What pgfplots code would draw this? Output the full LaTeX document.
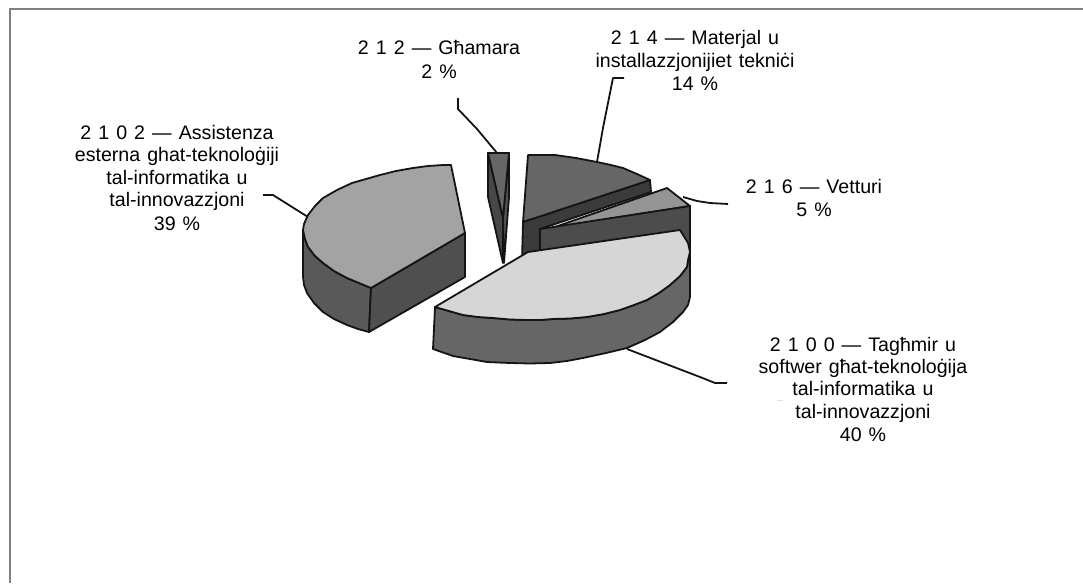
\documentclass[border=0pt]{standalone}
\usepackage{fontspec}
\setmainfont{Liberation Sans}
\usepackage{pgfplots}
\pgfplotsset{compat=1.18}
\begin{document}
\begin{tikzpicture}
\begin{axis}[
  scale only axis, width=1083bp, height=583bp,
  xmin=0, xmax=1083, ymin=0, ymax=583, y dir=reverse,
  hide axis, clip=true,
  every axis plot/.append style={line width=1.8pt, line join=round, draw=black!92, mark=none},
]
\path (axis cs:0,0) rectangle (axis cs:1083,583);
% frame
\addplot[draw=black!50, line width=2bp, line join=miter] coordinates {(9.5,583)(9.5,9.5)(1083,9.5)};
% speck
\addplot[draw=black!12, line width=1pt] coordinates {(777,400.5)(783,400.5)};
% leader lines
\addplot[fill=none] coordinates {(458,98)(458,109)(477,129)(497,153)};
\addplot[fill=none] coordinates {(624,78)(613,78)(603,128)(597,162)};
\addplot[fill=none] coordinates {(683,197)(697,201)(710,203)(728,204)};
\addplot[fill=none] coordinates {(627,349)(700,377)(715,383)(727,383)};
\addplot[fill=none] coordinates {(263,195)(273,195)(308,217)};
% 2 % slice
\addplot[fill=black!72] coordinates {(488,153)(488,197)(503,263)(503,218)} -- cycle;
\addplot[fill=black!68] coordinates {(509,153)(509,197)(504,263)(503,218)} -- cycle;
\addplot[fill=black!60] coordinates {(488,153)(509,153)(503,218)} -- cycle;
% 39 % slice
\addplot[fill=black!65] coordinates {(303,230)(305,239)(308,247)(315,256)(323,263)(334,271)(347,278)(359,283)(371,288)(369,332)(358,329)(347,325)(334,319)(323,312)(314,303)(307,293)(304,285)(303,277)} -- cycle;
\addplot[fill=black!69] coordinates {(371,288)(465,233)(465,277)(369,332)} -- cycle;
\addplot[fill=black!36] coordinates {(451,165)(465,233)(371,288)(359,283)(347,278)(334,271)(323,263)(315,256)(308,247)(305,239)(303,230)(304,224)(308,215)(315,206)(323,198)(337,190)(352,183)(366,179)(380,175)(396,171)(413,168)(428,166)(443,165)} -- cycle;
% 14 % slice
\addplot[fill=black!77] coordinates {(523,222)(650,180)(651,192)(540,229)(540,260)(522,260)} -- cycle;
\addplot[fill=black!60] coordinates {(528,155)(541,155)(555,155)(576,158)(597,162)(611,165)(623,168)(637,174)(650,180)(523,222)} -- cycle;
% 5 % slice
\addplot[fill=black!42] coordinates {(552,228)(667,188)(690,206)} -- cycle;
\addplot[fill=black!70] coordinates {(540,229)(690,206)(690,255)(540,262)} -- cycle;
% 40 % slice
\addplot[fill=black!60] coordinates {(435,307)(449,311)(463,315)(478,317)(493,318)(510,319.5)(527,320)(540,320)(553,319)(570,318.5)(587,317)(604,314)(620,310)(634,305)(647,300)(659,293)(670,285)(680,276)(687,267)(688,260)(690,252)(690,297)(688,305)(683,312)(673,322)(660,332)(645,340)(627,348)(606,353)(583,358)(567,361)(550,363)(530,363.5)(510,363)(498,362.5)(487,362)(470,359)(453,356)(433,349)} -- cycle;
\addplot[fill=black!16] coordinates {(528,252)(680,230)(688,243)(690,252)(688,260)(687,267)(680,276)(670,285)(659,293)(647,300)(634,305)(620,310)(604,314)(587,317)(570,318.5)(553,319)(540,320)(527,320)(510,319.5)(493,318)(478,317)(463,315)(449,311)(435,307)} -- cycle;
% labels
\def\T(#1,#2)#3{\node[font=\fontsize{19.6bp}{22bp}\selectfont, text=black, inner sep=0pt, anchor=center, yshift=-2bp] at (axis cs:#1,#2) {\spaceskip=0.36em\strut #3};}
\T(439,48){2 1 2 — Għamara}
\T(439,72){2 \%}
\T(695,38){2 1 4 — Materjal u}
\T(695,61){installazzjonijiet tekniċi}
\T(695,84){14 \%}
\T(814,187){2 1 6 — Vetturi}
\T(814,210){5 \%}
\T(863,345){2 1 0 0 — Tagħmir u}
\T(863,367){softwer għat-teknoloġija}
\T(863,389){tal-informatika u}
\T(863,412){tal-innovazzjoni}
\T(863,435){40 \%}
\T(177,133){2 1 0 2 — Assistenza}
\T(177,155){esterna ghat-teknoloġiji}
\T(177,178){tal-informatika u}
\T(177,200){tal-innovazzjoni}
\T(177,224){39 \%}
\end{axis}
\end{tikzpicture}
\end{document}
